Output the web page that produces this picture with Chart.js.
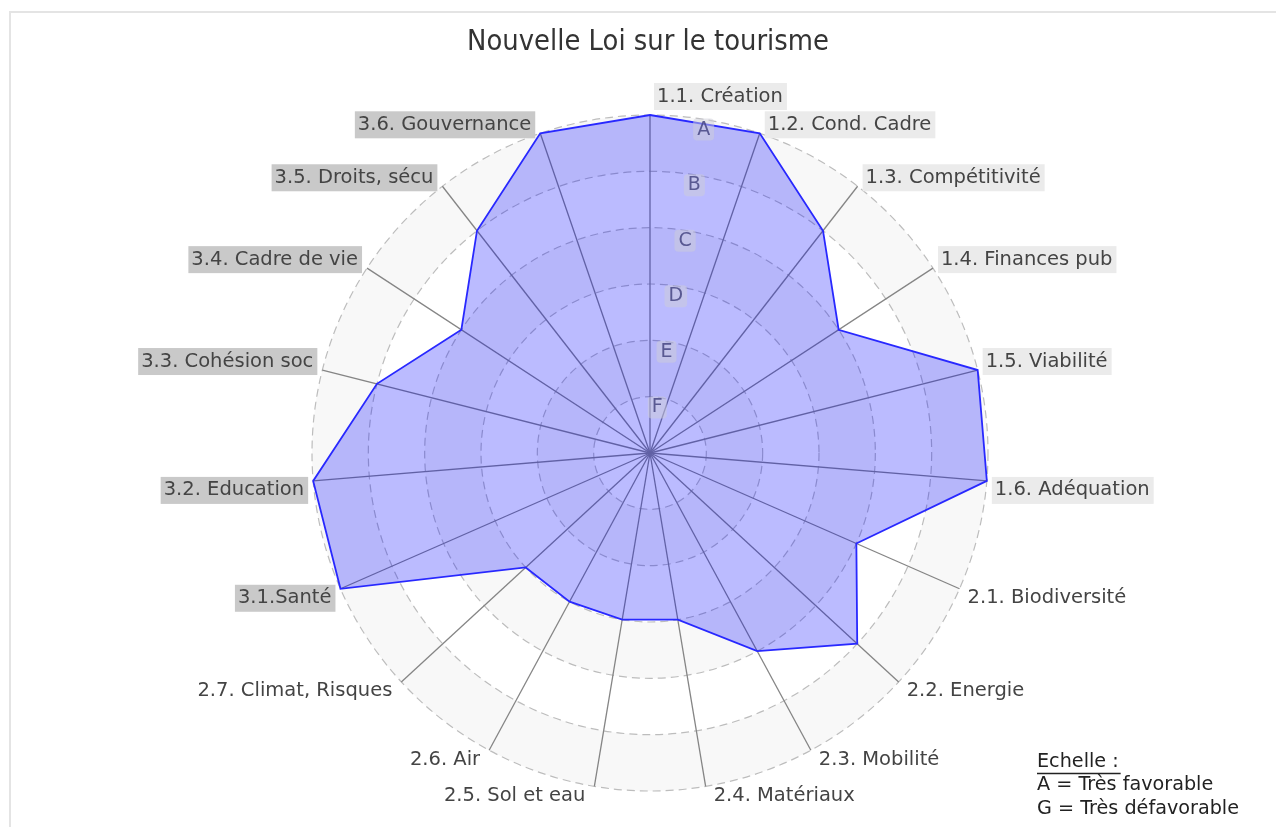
<!DOCTYPE html>
<html lang="fr">
<head>
<meta charset="utf-8">
<title>Nouvelle Loi sur le tourisme</title>
<script src="https://cdn.jsdelivr.net/npm/chart.js@4.4.1/dist/chart.umd.min.js"></script>
<style>
  html, body { margin: 0; padding: 0; background: #ffffff; }
  #wrap { width: 1276px; height: 827px; }
</style>
</head>
<body>
<div id="wrap"><canvas id="radarChart" width="1276" height="827"></canvas></div>
<script>
// ====================
// Données
// ====================
const chartTitle = "Nouvelle Loi sur le tourisme";

const categories = [
  "1.1. Création", "1.2. Cond. Cadre", "1.3. Compétitivité", "1.4. Finances pub",
  "1.5. Viabilité", "1.6. Adéquation",
  "2.1. Biodiversité", "2.2. Energie", "2.3. Mobilité", "2.4. Matériaux",
  "2.5. Sol et eau", "2.6. Air", "2.7. Climat, Risques",
  "3.1.Santé", "3.2. Education", "3.3. Cohésion soc", "3.4. Cadre de vie",
  "3.5. Droits, sécu", "3.6. Gouvernance"
];

// 0 = G (centre) ... 6 = A (bord)
const scores = [6, 6, 5, 4, 6, 6, 4, 5, 4, 3, 3, 3, 3, 6, 6, 5, 4, 5, 6];

const gradeLabels = ["G", "F", "E", "D", "C", "B", "A"];

const legendLines = ["Echelle :", "A = Très favorable", "G = Très défavorable"];

// ====================
// Outils de dessin
// ====================
const FONT_FAMILY = "'DejaVu Sans', Verdana, sans-serif";

// texte éventuellement condensé (sx < 1)
function drawText(ctx, text, x, y, align, size, sx, color) {
  ctx.save();
  ctx.font = `${size}px ${FONT_FAMILY}`;
  ctx.fillStyle = color;
  ctx.textBaseline = "middle";
  ctx.textAlign = align;
  ctx.translate(x, y);
  ctx.scale(sx, 1);
  ctx.fillText(text, 0, 0);
  ctx.restore();
}

function textWidth(ctx, text, size, sx) {
  ctx.save();
  ctx.font = `${size}px ${FONT_FAMILY}`;
  const w = ctx.measureText(text).width * sx;
  ctx.restore();
  return w;
}

function roundRect(ctx, x, y, w, h, r) {
  ctx.beginPath();
  ctx.moveTo(x + r, y);
  ctx.lineTo(x + w - r, y);
  ctx.quadraticCurveTo(x + w, y, x + w, y + r);
  ctx.lineTo(x + w, y + h - r);
  ctx.quadraticCurveTo(x + w, y + h, x + w - r, y + h);
  ctx.lineTo(x + r, y + h);
  ctx.quadraticCurveTo(x, y + h, x, y + h - r);
  ctx.lineTo(x, y + r);
  ctx.quadraticCurveTo(x, y, x + r, y);
  ctx.closePath();
}

// ====================
// Plugin : cadre, bandes, graduations, étiquettes, légende
// ====================
const spiderDecor = {
  id: "spiderDecor",

  beforeDraw(chart) {
    const ctx = chart.ctx;
    const s = chart.scales.r;

    // cadre gris clair
    ctx.save();
    ctx.strokeStyle = "#e4e4e4";
    ctx.lineWidth = 2;
    ctx.beginPath();
    ctx.moveTo(10, chart.height);
    ctx.lineTo(10, 12);
    ctx.lineTo(chart.width, 12);
    ctx.stroke();

    // bandes alternées
    ctx.fillStyle = "#f8f8f8";
    for (let v = s.max; v > s.min; v -= 2) {
      const rOut = s.getDistanceFromCenterForValue(v);
      const rIn = s.getDistanceFromCenterForValue(v - 1);
      ctx.beginPath();
      ctx.arc(s.xCenter, s.yCenter, rOut, 0, Math.PI * 2);
      ctx.arc(s.xCenter, s.yCenter, rIn, 0, Math.PI * 2, true);
      ctx.fill();
    }
    ctx.restore();
  },

  afterDatasetsDraw(chart) {
    const ctx = chart.ctx;
    const s = chart.scales.r;

    // graduations A..F sur la bissectrice entre les deux premiers axes
    for (let v = s.min + 1; v <= s.max; v++) {
      const p = s.getPointPositionForValue(0.5, v);
      const x = p.x - 2;
      const y = p.y + 10;
      const txt = gradeLabels[v];
      const w = textWidth(ctx, txt, 19, 1) + 8;
      ctx.save();
      ctx.fillStyle = "rgba(205, 205, 215, 0.5)";
      roundRect(ctx, x - w / 2, y - 11, w, 22, 4);
      ctx.fill();
      ctx.restore();
      drawText(ctx, txt, x, y, "center", 19, 1, "rgba(70, 70, 130, 0.85)");
    }
  },

  afterDraw(chart) {
    const ctx = chart.ctx;
    const s = chart.scales.r;
    const outer = s.getDistanceFromCenterForValue(s.max);
    const size = 19.5, sx = 1, boxH = 27;

    // étiquettes des axes
    categories.forEach((label, i) => {
      const ep = s.getPointPosition(i, outer);
      const dx = ep.x - s.xCenter;
      const dy = ep.y - s.yCenter;
      const w = textWidth(ctx, label, size, sx) + 7;
      let left, top;
      if (Math.abs(dx) < 1) {
        left = ep.x + 4;
        top = ep.y - 5 - boxH;
      } else {
        left = dx > 0 ? ep.x + 5 : ep.x - 5 - w;
        top = dy < 0 ? ep.y + 5 - boxH : ep.y - 4;
      }
      let bg = null;
      if (label.startsWith("1.")) bg = "#ebebeb";
      if (label.startsWith("3.")) bg = "#c9c9c9";
      if (bg) {
        ctx.save();
        ctx.fillStyle = bg;
        ctx.fillRect(left, top, w, boxH);
        ctx.restore();
      }
      drawText(ctx, label, left + 3, top + boxH / 2, "left", size, sx, "#444444");
    });

    // titre
    const area = chart.chartArea;
    drawText(ctx, chartTitle, (area.left + area.right) / 2 - 2, 43, "center", 28, 0.925, "#333333");

    // légende de l'échelle
    const lx = 1037;
    const ly = [762, 785, 809];
    legendLines.forEach((line, i) => {
      drawText(ctx, line, lx, ly[i], "left", 19.2, 1, "#222222");
    });
    const uw = textWidth(ctx, legendLines[0], 19.2, 1);
    ctx.save();
    ctx.strokeStyle = "#222222";
    ctx.lineWidth = 1.5;
    ctx.beginPath();
    ctx.moveTo(lx, 773.5);
    ctx.lineTo(lx + uw + 2, 773.5);
    ctx.stroke();
    ctx.restore();
  }
};

// ====================
// Graphique radar
// ====================
function initializeChart() {
  const canvas = document.getElementById("radarChart");
  new Chart(canvas, {
    type: "radar",
    data: {
      labels: categories,
      datasets: [{
        label: chartTitle,
        data: scores,
        fill: true,
        backgroundColor: "rgba(0, 0, 255, 0.265)",
        borderColor: "rgba(40, 40, 255, 1)",
        borderWidth: 1.8,
        pointRadius: 0,
        pointHoverRadius: 0,
        tension: 0
      }]
    },
    options: {
      responsive: false,
      animation: false,
      layout: { padding: { left: 312, right: 288, top: 115, bottom: 36 } },
      plugins: {
        legend: { display: false },
        title: { display: false },
        tooltip: { enabled: false }
      },
      scales: {
        r: {
          min: 0,
          max: 6,
          ticks: { stepSize: 1, display: false },
          pointLabels: { display: false },
          grid: { circular: true, color: "#bdbdbd", lineWidth: 1.2 },
          border: { dash: [8, 5] },
          angleLines: { color: "#858585", lineWidth: 1.3 }
        }
      }
    },
    plugins: [spiderDecor]
  });
}

window.onload = () => {
  initializeChart();
};
</script>
</body>
</html>
